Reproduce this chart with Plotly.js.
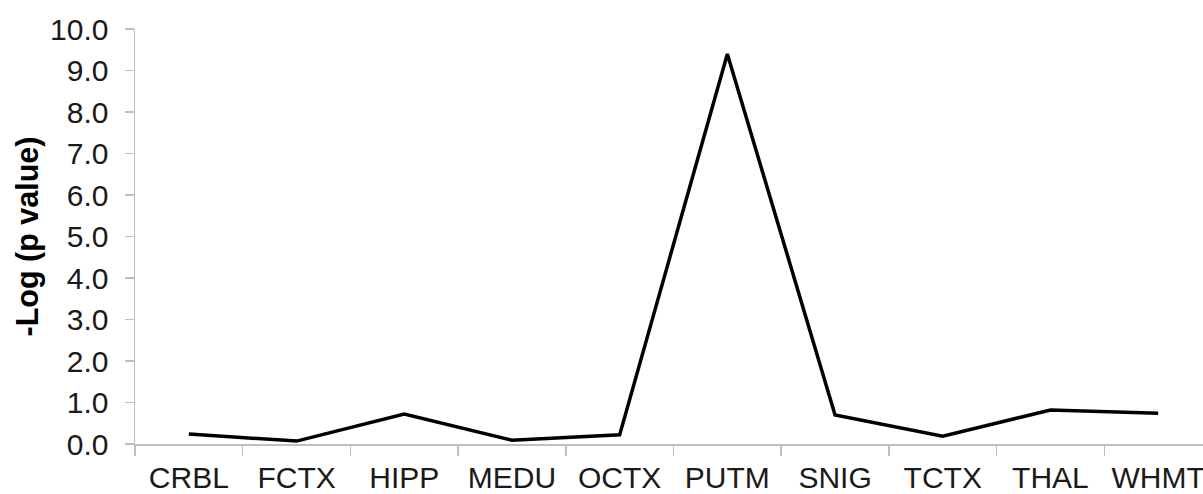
<!DOCTYPE html>
<html>
<head>
<meta charset="utf-8">
<script src="https://cdn.plot.ly/plotly-3.0.1.min.js"></script>
<style>html,body{margin:0;padding:0;background:#fff;}#chart{width:1203px;height:494px;}</style>
</head>
<body>
<div id="chart"></div>
<script>
const regions = ["CRBL", "FCTX", "HIPP", "MEDU", "OCTX", "PUTM", "SNIG", "TCTX", "THAL", "WHMT"];
const negLogP = [0.24, 0.07, 0.72, 0.09, 0.22, 9.40, 0.70, 0.19, 0.82, 0.74];
const yTickVals = [0, 1, 2, 3, 4, 5, 6, 7, 8, 9, 10];
const yTickText = ["0.0", "1.0", "2.0", "3.0", "4.0", "5.0", "6.0", "7.0", "8.0", "9.0", "10.0"];
const yTitle = "-Log (p value)";

const W = 1203, H = 494;
const mL = 135, mR = 0, mT = 29, mB = 50;
const plotW = W - mL - mR;

const trace = {
  x: regions,
  y: negLogP,
  type: "scatter",
  mode: "lines",
  line: {color: "#000000", width: 3.5},
  hoverinfo: "x+y"
};

const axisGray = "#bfbfbf";
const fam = "Liberation Sans, Arial, sans-serif";
const layout = {
  width: W,
  height: H,
  margin: {l: mL, r: mR, t: mT, b: mB, pad: 0},
  paper_bgcolor: "#ffffff",
  plot_bgcolor: "#ffffff",
  showlegend: false,
  font: {family: fam, size: 30, color: "#1a1a1a"},
  xaxis: {
    type: "category",
    range: [-0.5, -0.5 + plotW / 107.7],
    showgrid: false,
    zeroline: false,
    showline: true,
    linecolor: axisGray,
    linewidth: 1.5,
    ticks: "outside",
    tickson: "boundaries",
    ticklen: 10,
    tickwidth: 1.5,
    tickcolor: axisGray,
    tickfont: {family: fam, size: 30, color: "#1a1a1a"},
    ticklabelstandoff: 6,
    automargin: false,
    fixedrange: true
  },
  yaxis: {
    range: [0, 10],
    tickvals: yTickVals,
    ticktext: yTickText,
    showgrid: false,
    zeroline: false,
    showline: true,
    linecolor: axisGray,
    linewidth: 1.5,
    ticks: "outside",
    ticklen: 9,
    tickwidth: 1.5,
    tickcolor: axisGray,
    tickfont: {family: fam, size: 30, color: "#1a1a1a"},
    ticklabelstandoff: 10,
    automargin: false,
    fixedrange: true
  },
  annotations: [{
    text: "<b>" + yTitle + "</b>",
    xref: "paper", yref: "paper",
    x: (27 - mL) / plotW, y: 0.5,
    xanchor: "center", yanchor: "middle",
    textangle: -90,
    showarrow: false,
    font: {family: fam, size: 30.5, color: "#000000"}
  }]
};

Plotly.newPlot("chart", [trace], layout, {displayModeBar: false, staticPlot: true});
</script>
</body>
</html>
